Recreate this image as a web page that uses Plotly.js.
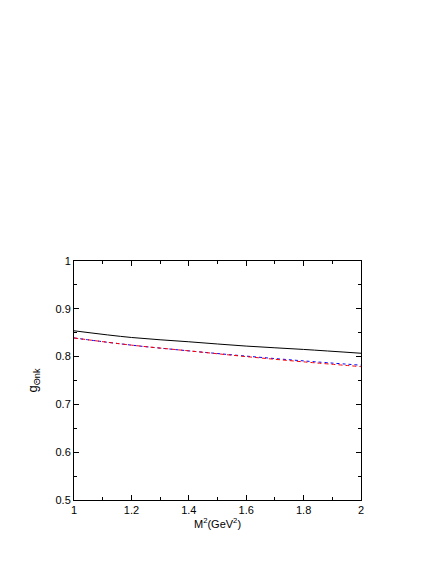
<!DOCTYPE html>
<html><head><meta charset="utf-8">
<script src="https://cdn.plot.ly/plotly-3.0.1.min.js"></script>
<style>html,body{margin:0;padding:0;background:#fff}</style>
</head><body><div id="c" style="width:436px;height:564px"></div>
<script>
const xVals = [1.0, 1.2, 1.4, 1.6, 1.8, 2.0];
const blackVals = [0.854, 0.840, 0.831, 0.822, 0.815, 0.807];
const redVals = [0.839, 0.824, 0.812, 0.800, 0.789, 0.779];
const blueVals = [0.839, 0.824, 0.812, 0.801, 0.791, 0.782];
const xTicks = [1, 1.2, 1.4, 1.6, 1.8, 2];
const yTicks = [0.5, 0.6, 0.7, 0.8, 0.9, 1];

const traces = [
  {x: xVals, y: blackVals, mode: 'lines', line: {color: '#000', width: 1, shape: 'spline'}},
  {x: xVals, y: blueVals, mode: 'lines', line: {color: '#0000ff', width: 1, dash: 'dot', shape: 'spline'}},
  {x: xVals, y: redVals, mode: 'lines', line: {color: '#ff0000', width: 1, dash: '4px,3px', shape: 'spline'}}
];
const ax = {
  showline: true, mirror: 'ticks', linecolor: '#000', linewidth: 1,
  ticks: 'inside', ticklen: 5, tickcolor: '#000', showgrid: false, zeroline: false,
  tickfont: {family: 'Liberation Sans, Arial, sans-serif', size: 11, color: '#000'}
};
const layout = {
  width: 436, height: 564,
  margin: {l: 74, r: 75, t: 261, b: 64},
  showlegend: false,
  paper_bgcolor: '#fff', plot_bgcolor: '#fff',
  xaxis: Object.assign({}, ax, {
    range: [1, 2], tickvals: xTicks, ticktext: xTicks.map(String),
    minor: {dtick: 0.1, ticks: 'inside', ticklen: 3, tickcolor: '#000', showgrid: false},
    title: {text: 'M<sup>2</sup>(GeV<sup>2</sup>)', standoff: 4,
      font: {family: 'Liberation Sans, Arial, sans-serif', size: 11, color: '#000'}}
  }),
  yaxis: Object.assign({}, ax, {
    range: [0.5, 1], tickvals: yTicks, ticktext: yTicks.map(String),
    minor: {dtick: 0.05, ticks: 'inside', ticklen: 3, tickcolor: '#000', showgrid: false},
    title: {text: 'g<sub>Θnk</sub>', standoff: 14,
      font: {family: 'Liberation Sans, Arial, sans-serif', size: 13, color: '#000'}}
  })
};
Plotly.newPlot('c', traces, layout, {displayModeBar: false, staticPlot: true});
</script></body></html>
